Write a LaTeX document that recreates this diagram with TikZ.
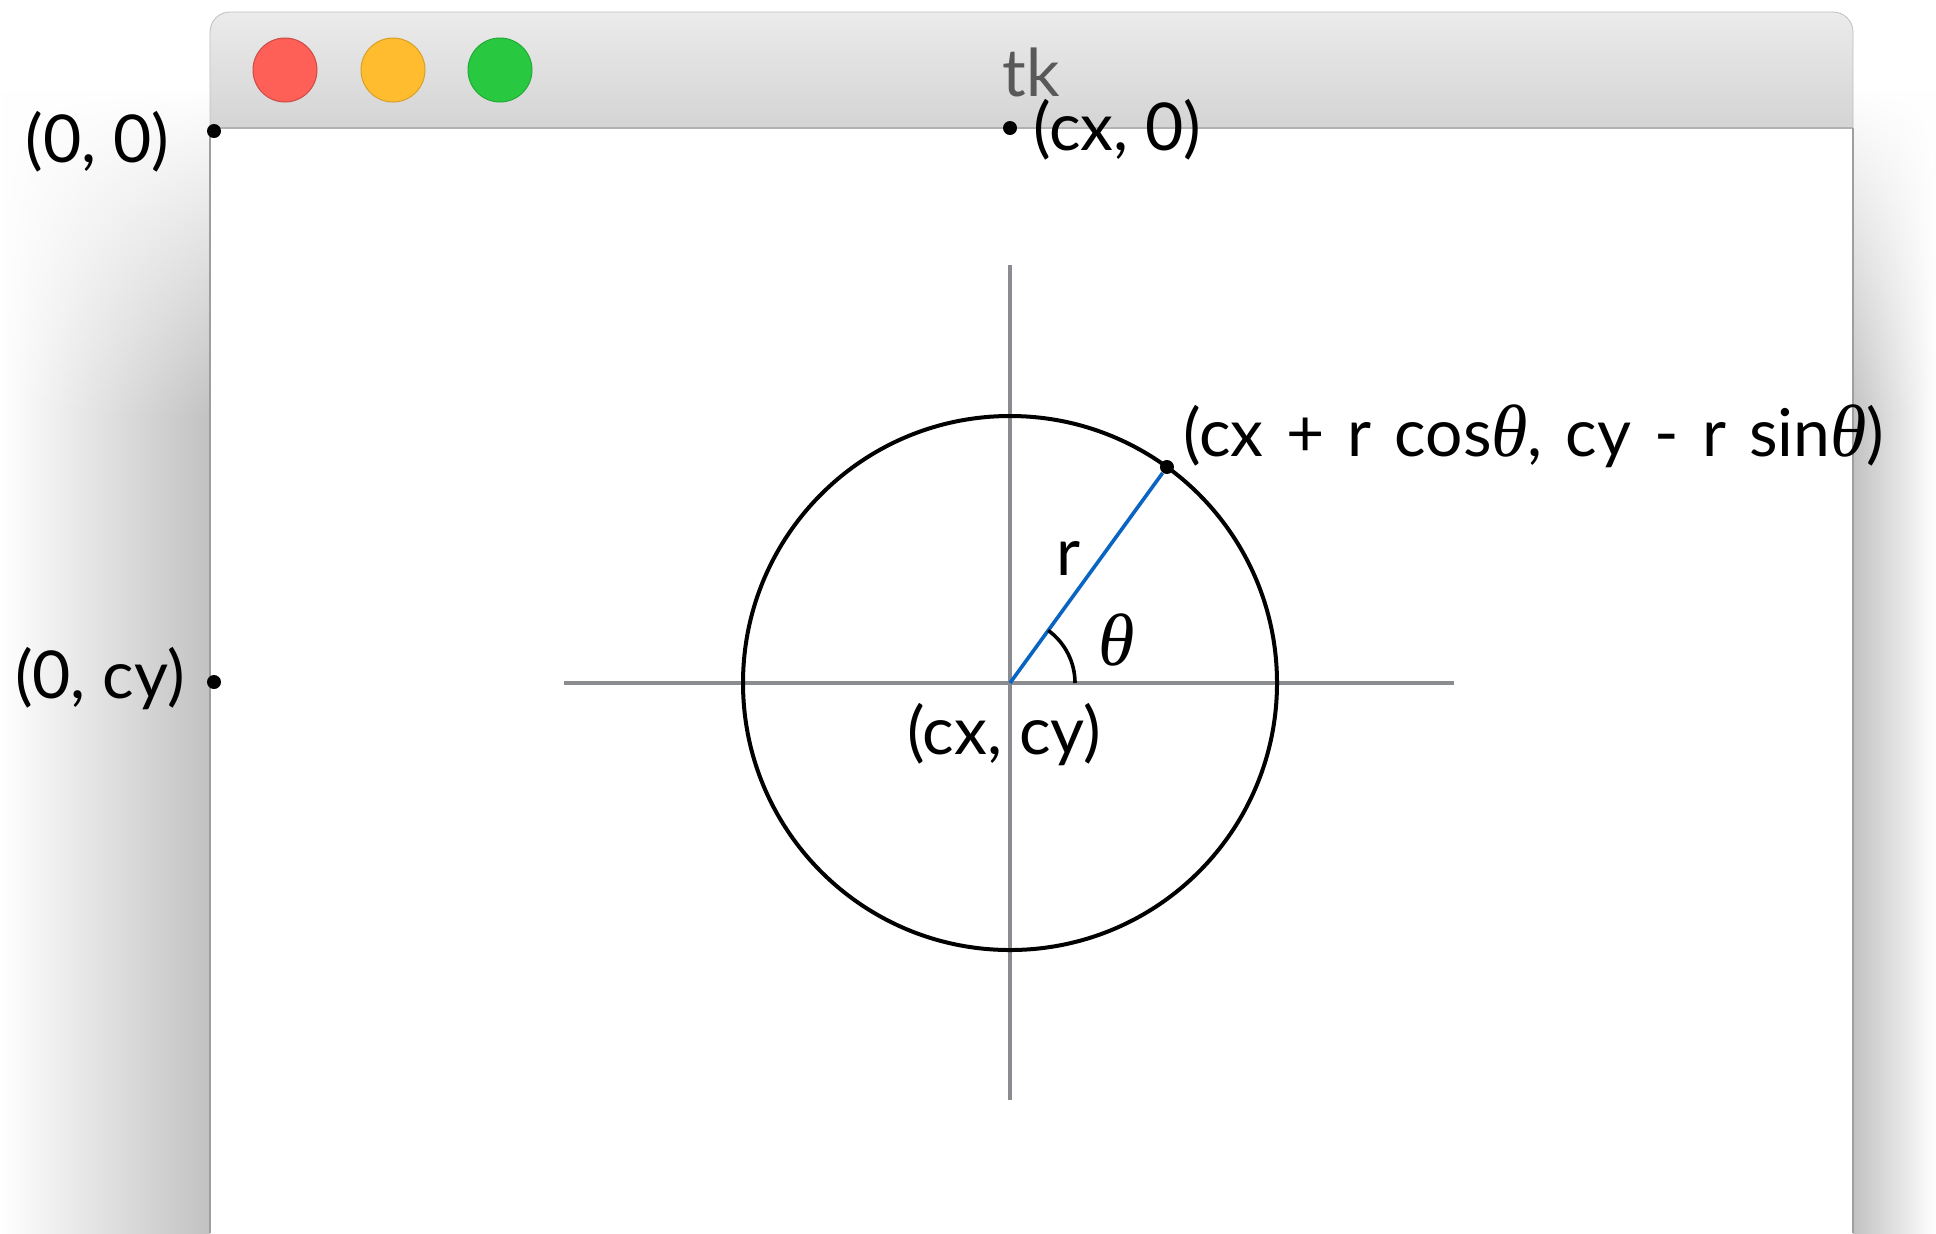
\documentclass[tikz,border=0pt]{standalone}
\usepackage{fontspec}
\setmainfont{Lato}
\newfontfamily\thetafont{Liberation Serif}
\usetikzlibrary{positioning,fadings}
\definecolor{axisgray}{HTML}{8A8C90}
\definecolor{radblue}{HTML}{0A64C2}
\definecolor{btnred}{HTML}{FE5F57}
\definecolor{btnyellow}{HTML}{FEBC2E}
\definecolor{btngreen}{HTML}{28C840}
\definecolor{titletop}{HTML}{EBEBEB}
\definecolor{titlebot}{HTML}{D4D4D4}
\newcommand{\angth}{{\thetafont\itshape\fontsize{37}{40}\selectfont θ}}
\begin{document}
\begin{tikzpicture}[x=0.5pt,y=-0.5pt,
    dot/.style={circle,fill=black,inner sep=0pt,minimum size=7pt},
    lbl/.style={font=\fontsize{33}{38}\selectfont,inner sep=1pt},
    axis/.style={axisgray,line width=2pt},
    light/.style={circle,minimum size=32pt,inner sep=0pt,line width=0.5pt}]
    \useasboundingbox (0,0) rectangle (1936,1233);
    % window shadow
    \shade[left color=white,right color=black!24] (0,90) rectangle (210,1233);
    \shade[left color=black!24,right color=white] (1853,90) rectangle (1936,1233);
    \fill[white,path fading=south] (0,90) rectangle (1936,420);
    % window
    \fill[white] (210,128) rectangle (1853,1233);
    \path[draw=black!25,top color=titletop,bottom color=titlebot,rounded corners=10pt]
        (210,128) -- (210,12) -- (1853,12) -- (1853,128);
    \draw[black!30,line width=1pt] (210,128) -- (1853,128);
    \draw[black!38,line width=1pt] (210,128) -- (210,1233);
    \draw[black!38,line width=1pt] (1853,128) -- (1853,1233);
    \node[light,fill=btnred,draw=btnred!80!black] (close) at (285,70) {};
    \node[light,fill=btnyellow,draw=btnyellow!85!black] (mini) at (393,70) {};
    \node[light,fill=btngreen,draw=btngreen!85!black] (zoom) at (500,70) {};
    \node[lbl,text=black!65] (title) at (1031,72) {tk};
    % axes and circle
    \coordinate (c) at (1010,683);
    \coordinate (ytop) at (1010,265);
    \coordinate (ybot) at (1010,1100);
    \coordinate (xleft) at (564,683);
    \coordinate (xright) at (1454,683);
    \draw[axis] (ytop) -- (ybot);
    \draw[axis] (xleft) -- (xright);
    \draw[line width=2pt] (c) circle[radius=267];
    \node[dot] (p) at ([shift={(-54:267)}]c) {};
    \draw[radblue,line width=1.8pt] (c) -- (p);
    \draw[line width=1.8pt] ([shift={(-54:65)}]c) arc[start angle=-54,end angle=0,radius=65];
    \node[lbl] (rlbl) at (1068,558) {r};
    \node[lbl] (thlbl) at (1117,640) {\angth};
    \node[lbl] (clbl) at (1004,735) {(cx, cy)};
    \node[lbl,anchor=west] (plbl) at ([shift={(14,-31)}]p)
        {\spaceskip=11.5pt\relax(cx + r cos\angth, cy - r sin\angth)};
    % window corner points
    \node[dot] (o0) at (214,131) {};
    \node[dot] (ocx) at (1010,128) {};
    \node[dot] (ocy) at (214,682) {};
    \node[lbl,anchor=east] (o0lbl) at ([shift={(-42,11)}]o0) {(0, 0)};
    \node[lbl,anchor=west] (ocxlbl) at ([shift={(21,2)}]ocx) {(cx, 0)};
    \node[lbl,anchor=east] (ocylbl) at ([shift={(-27,-3)}]ocy) {(0, cy)};
\end{tikzpicture}
\end{document}
